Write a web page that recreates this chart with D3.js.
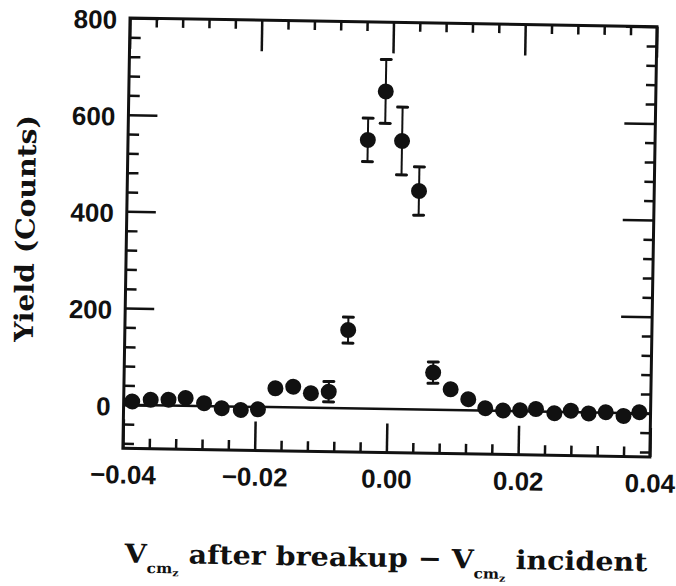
<!DOCTYPE html>
<html>
<head>
<meta charset="utf-8">
<script src="https://cdn.jsdelivr.net/npm/d3@7/dist/d3.min.js"></script>
<style>
  html, body { margin: 0; padding: 0; background: #fff; }
  svg { display: block; }
</style>
</head>
<body>
<svg id="chart" width="676" height="586"></svg>
<script>
// Velocity difference (bin centres) and yield per bin
const xValues = [-0.0387, -0.0359, -0.0332, -0.0306, -0.0278, -0.0251, -0.0222, -0.0196,
                 -0.0170, -0.0143, -0.0116, -0.0089, -0.0061, -0.0036, -0.0010, 0.0016,
                  0.0043, 0.0069, 0.0096, 0.0123, 0.0149, 0.0176, 0.0202, 0.0226,
                  0.0254, 0.0279, 0.0306, 0.0332, 0.0359, 0.0383];
const yValues = [7, 11, 12, 16, 6, -4, -7, -5,
                 39, 43, 30, 34, 162, 556, 657, 555,
                 452, 77, 43, 23, 5, 1, 2, 5,
                 -3, 3, -2, 1, -6, 2];
// Statistical uncertainty (only where it is larger than the marker)
const yErrors = [0, 0, 0, 0, 0, 0, 0, 0,
                 0, 0, 0, 21, 27, 45, 66, 70,
                 50, 22, 0, 0, 0, 0, 0, 0,
                 0, 0, 0, 0, 0, 0];

const xDomain = [-0.04, 0.04];
const yDomain = [-90, 800];
const xMajorTicks = [-0.04, -0.02, 0, 0.02, 0.04];
const xTickLabels = ["\u22120.04", "\u22120.02", "0.00", "0.02", "0.04"];
const xMinorTicks = [-0.036, -0.032, -0.028, -0.024, -0.016, -0.012, -0.008, -0.004,
                     0.004, 0.008, 0.012, 0.016, 0.024, 0.028, 0.032, 0.036];
const yMajorTicks = [0, 200, 400, 600, 800];
const yTickLabels = ["0", "200", "400", "600", "800"];
const yMinorTicks = [-80, -40, 40, 80, 120, 160, 240, 280, 320, 360,
                     440, 480, 520, 560, 640, 680, 720, 760];
const yTitle = "Yield (Counts)";

const svg = d3.select("#chart");
const W = 676, H = 586;
const pLeft = 125.5, pRight = 652.5, pTop = 21.5, pBottom = 451.75;
const ink = "#111";

// whole figure sits slightly tilted on the page
const root = svg.append("g").attr("transform", `rotate(0.95, ${W / 2}, ${H / 2})`);

const x = d3.scaleLinear().domain(xDomain).range([pLeft, pRight]);
const y = d3.scaleLinear().domain(yDomain).range([pBottom, pTop]);

function styleAxis(g, width) {
  g.select(".domain").remove();
  g.selectAll(".tick line").attr("stroke", ink).attr("stroke-width", width);
  g.selectAll(".tick text")
    .attr("fill", ink)
    .style("font-family", "'Liberation Sans', Arial, Helvetica, sans-serif")
    .style("font-weight", "bold")
    .style("font-size", "26px");
}

// minor ticks, all four sides, pointing inward
root.append("g").attr("transform", `translate(0,${pBottom})`)
  .call(d3.axisBottom(x).tickValues(xMinorTicks).tickSize(-10).tickFormat(""))
  .call(g => styleAxis(g, 2.5));
root.append("g").attr("transform", `translate(0,${pTop})`)
  .call(d3.axisTop(x).tickValues(xMinorTicks).tickSize(-9).tickFormat(""))
  .call(g => styleAxis(g, 2.5));
root.append("g").attr("transform", `translate(${pLeft},0)`)
  .call(d3.axisLeft(y).tickValues(yMinorTicks).tickSize(-11).tickFormat(""))
  .call(g => styleAxis(g, 2.5));
root.append("g").attr("transform", `translate(${pRight},0)`)
  .call(d3.axisRight(y).tickValues(yMinorTicks).tickSize(-10).tickFormat(""))
  .call(g => styleAxis(g, 2.5));

// major ticks with labels
root.append("g").attr("transform", `translate(0,${pBottom})`)
  .call(d3.axisBottom(x).tickValues(xMajorTicks).tickSize(-29).tickPadding(17)
    .tickFormat((d, i) => xTickLabels[i]))
  .call(g => styleAxis(g, 2.5));
root.append("g").attr("transform", `translate(0,${pTop})`)
  .call(d3.axisTop(x).tickValues(xMajorTicks).tickSize(-31).tickFormat(""))
  .call(g => styleAxis(g, 2.5));
root.append("g").attr("transform", `translate(${pLeft},0)`)
  .call(d3.axisLeft(y).tickValues(yMajorTicks).tickSize(-29).tickPadding(13)
    .tickFormat((d, i) => yTickLabels[i]))
  .call(g => styleAxis(g, 2.5))
  .call(g => g.selectAll(".tick text").attr("dy", "0.4em"));
root.append("g").attr("transform", `translate(${pRight},0)`)
  .call(d3.axisRight(y).tickValues(yMajorTicks).tickSize(-31).tickFormat(""))
  .call(g => styleAxis(g, 2.5));

// frame
root.append("rect")
  .attr("x", pLeft).attr("y", pTop)
  .attr("width", pRight - pLeft).attr("height", pBottom - pTop)
  .attr("fill", "none").attr("stroke", ink).attr("stroke-width", 3);

// zero reference line
root.append("line")
  .attr("x1", x(xDomain[0])).attr("x2", x(xDomain[1]))
  .attr("y1", y(0)).attr("y2", y(0))
  .attr("stroke", ink).attr("stroke-width", 2.5);

const data = xValues.map((v, i) => ({ x: v, y: yValues[i], e: yErrors[i] }));

// error bars
const eb = root.append("g").selectAll("g").data(data.filter(d => d.e > 0)).join("g");
eb.append("line")
  .attr("x1", d => x(d.x)).attr("x2", d => x(d.x))
  .attr("y1", d => y(d.y - d.e)).attr("y2", d => y(d.y + d.e))
  .attr("stroke", ink).attr("stroke-width", 2);
eb.selectAll("line.cap").data(d => [d.y - d.e, d.y + d.e].map(v => ({ x: d.x, v })))
  .join("line").attr("class", "cap")
  .attr("x1", d => x(d.x) - 5).attr("x2", d => x(d.x) + 5)
  .attr("y1", d => y(d.v)).attr("y2", d => y(d.v))
  .attr("stroke", ink).attr("stroke-width", 3).attr("stroke-linecap", "round");

// markers
root.append("g").selectAll("circle").data(data).join("circle")
  .attr("cx", d => x(d.x)).attr("cy", d => y(d.y)).attr("r", 8)
  .attr("fill", ink);

// y axis title, fitted to its span
const serif = "'DejaVu Serif', 'Liberation Serif', serif";
const yt = root.append("text")
  .text(yTitle)
  .attr("text-anchor", "middle")
  .attr("fill", ink)
  .style("font-family", serif).style("font-weight", "bold").style("font-size", "26px");
const ytLen = yt.node().getComputedTextLength();
yt.attr("transform", `translate(33.5,233.7) rotate(-90) scale(${227 / ytLen},1)`);

// x axis title with subscripts
const xt = root.append("text")
  .attr("fill", ink)
  .style("font-family", serif).style("font-weight", "bold").style("font-size", "26px");
xt.append("tspan").text("V");
xt.append("tspan").text("cm").style("font-size", "14px").attr("dy", 10);
xt.append("tspan").text("z").style("font-size", "10px").attr("dy", 3);
xt.append("tspan").text("\u00a0after breakup \u2212 V").attr("dy", -13);
xt.append("tspan").text("cm").style("font-size", "14px").attr("dy", 10);
xt.append("tspan").text("z").style("font-size", "10px").attr("dy", 3);
xt.append("tspan").text("\u00a0incident").attr("dy", -13);
const bb = xt.node().getBBox();
const sx = (652 - 128) / bb.width;
xt.attr("transform", `translate(${128 - bb.x * sx},566) scale(${sx},1)`);
</script>
</body>
</html>
